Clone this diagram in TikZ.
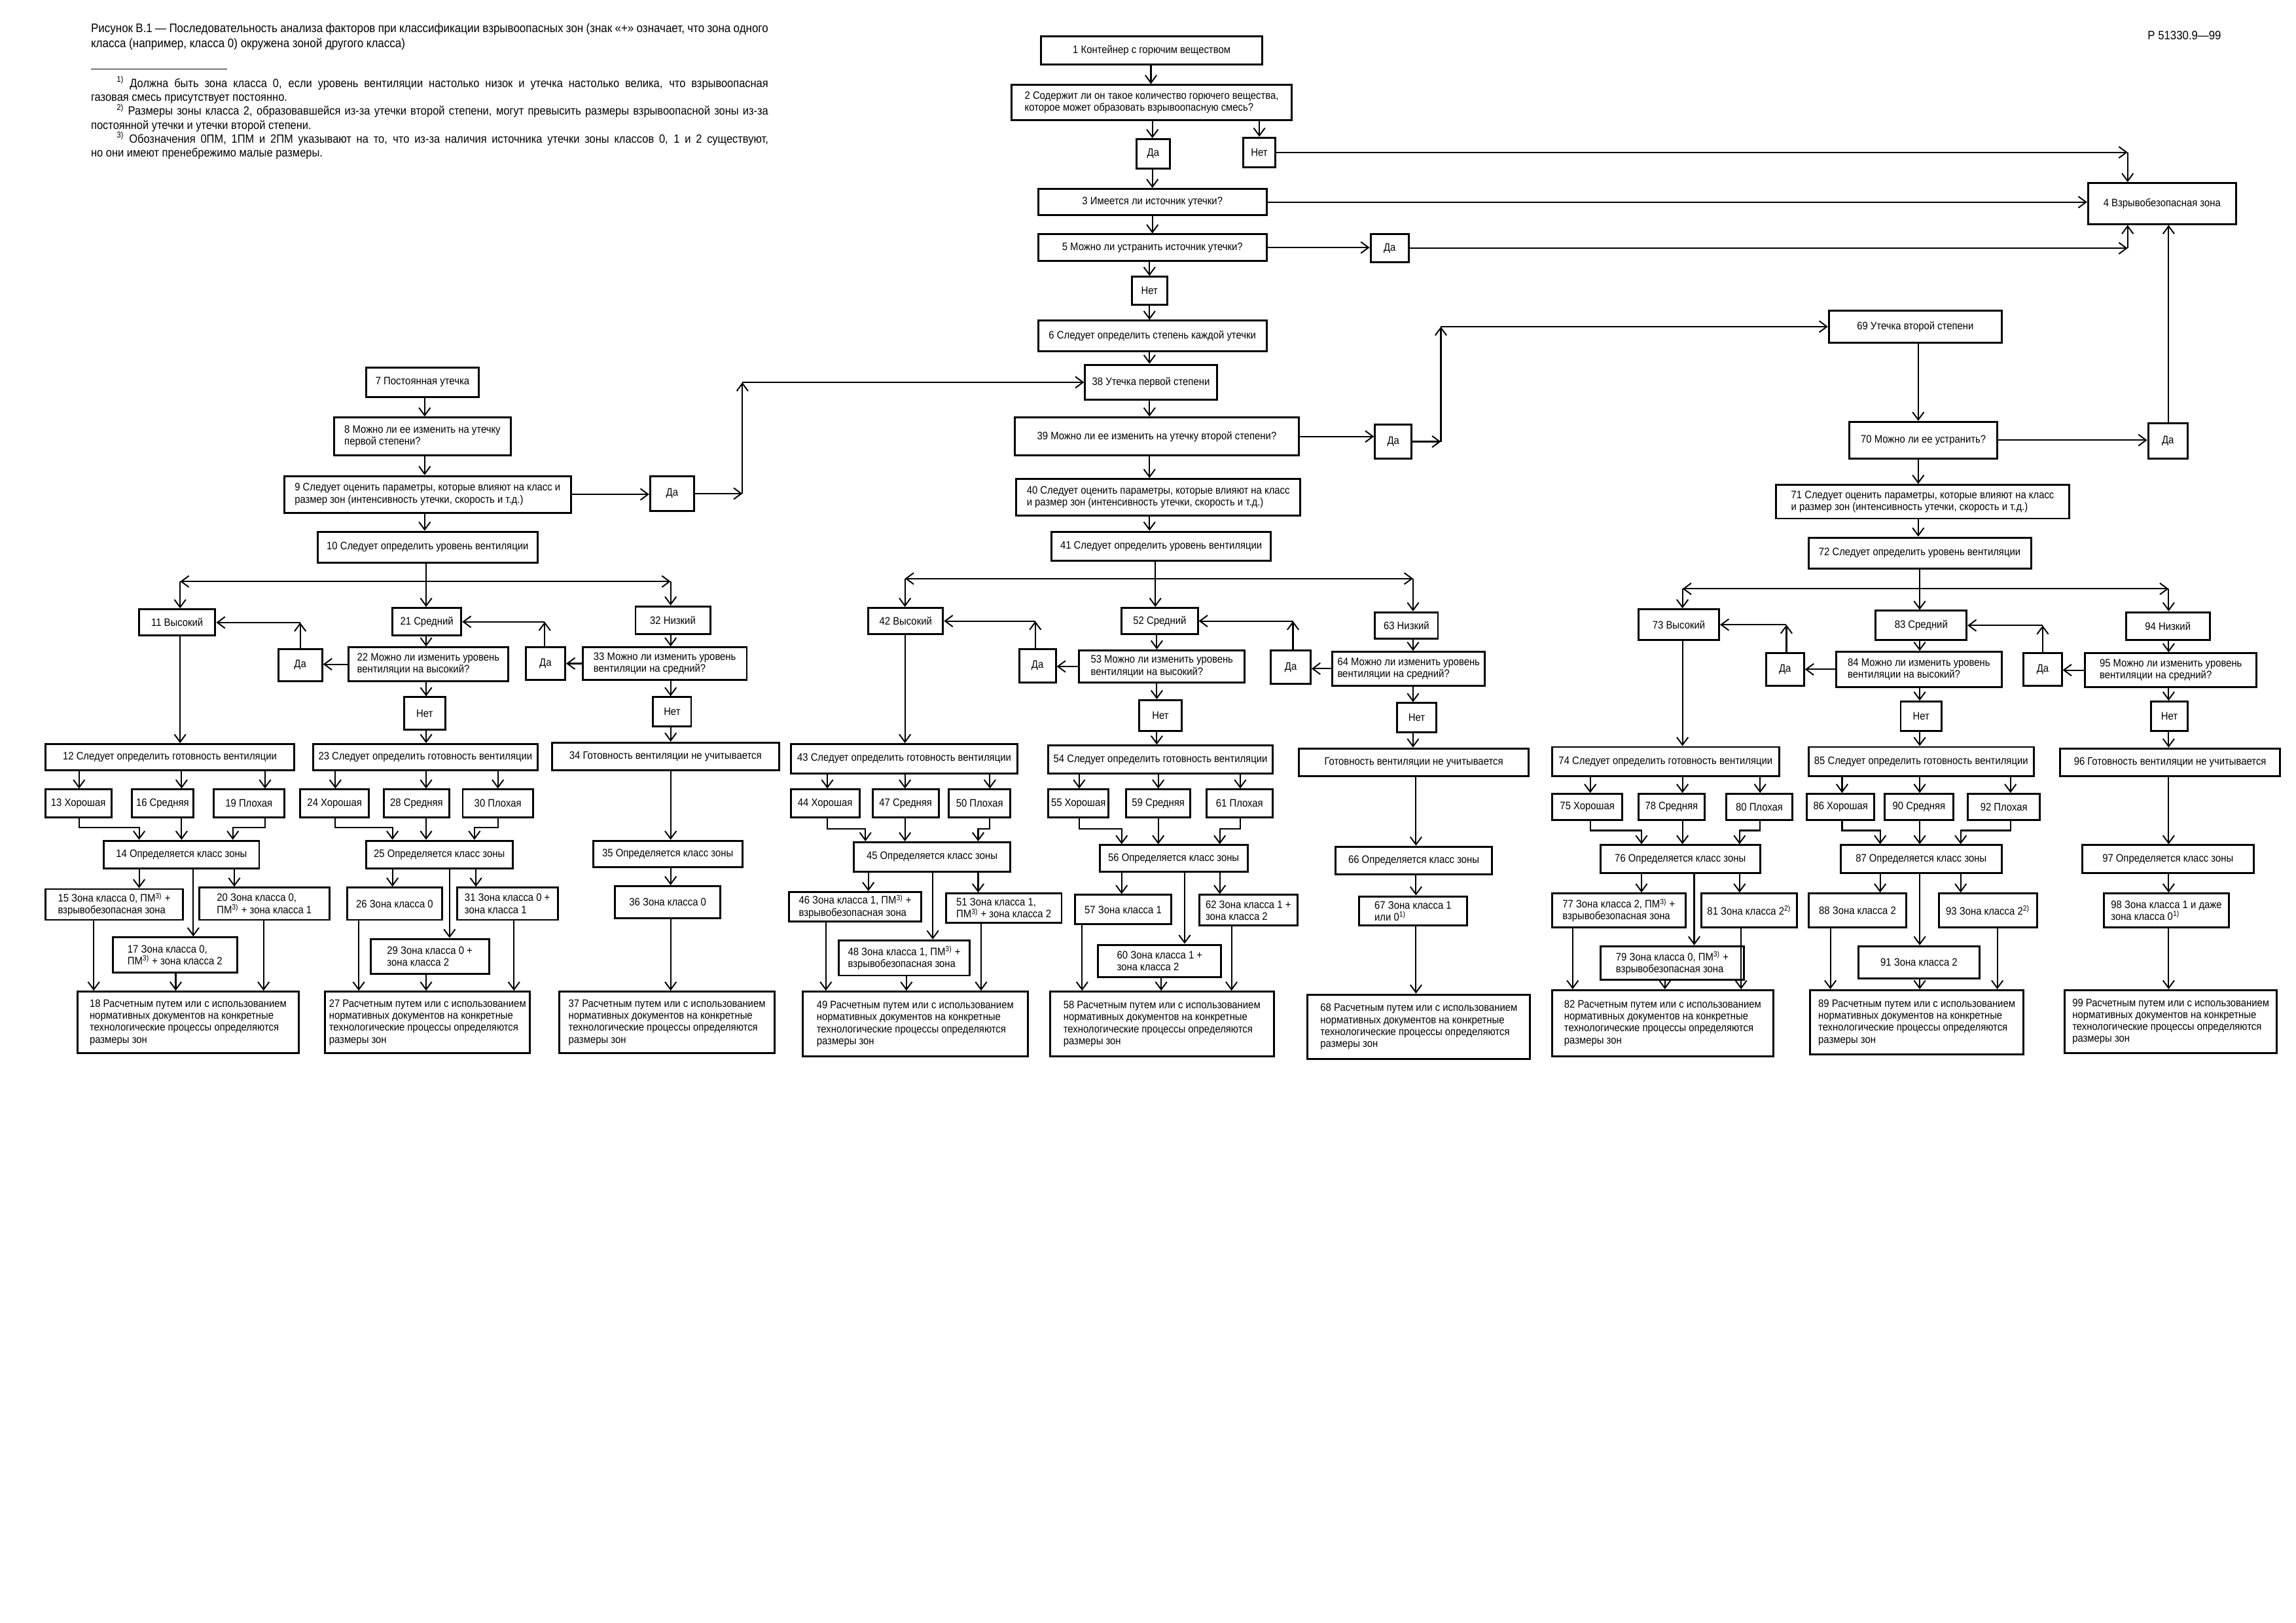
\documentclass[tikz,border=0pt]{standalone}
\usepackage{fontspec}
\setmainfont[FakeStretch=0.9]{Liberation Sans}
\usetikzlibrary{arrows.meta}
\tikzset{
  box/.style={draw, line width=1.5pt, fill=white, inner sep=1.5pt, font=\fontsize{8.4}{9.3}\selectfont, align=center},
  arr/.style={line width=1.05pt, -{Straight Barb[length=2.1mm,width=3.1mm,line width=1pt]}},
}
\newcommand\mybox[7][]{\node[box,#1,minimum width={(#5-#3)*0.4mm},minimum height={(#6-#4)*0.4mm}] (#2) at ({(#3+#5)/2},{(#4+#6)/2}) {#7};}
\newcommand\vlink[3]{\draw[arr] (#1,0 |- #2.south) -- (#1,0 |- #3.north);}
\newcommand\elink[5]{\draw[arr] (#2,0 |- #1.south) |- (#3,#4) -- (#3,0 |- #5.north);}
\newcommand\myup[3]{\draw[arr] (#1,0 |- #2.north) -- (#1,0 |- #3.east); \draw[arr] (#1,0 |- #3.east) -- (#3.east);}
\newcommand\hL[2]{\draw[arr] (#1.west) -- (#1.west -| #2.east);}
\newcommand\hR[2]{\draw[arr] (#1.east) -- (#1.east -| #2.west);}
\newcommand\mybranch[8]{%
  \draw[arr] (#4,0 |- #1.south) -- (#4,0 |- #7.north);
  \draw[arr] (#4,#2) -- (#3,#2); \draw[arr] (#3,#2) -- (#3,0 |- #6.north);
  \draw[arr] (#4,#2) -- (#5,#2); \draw[arr] (#5,#2) -- (#5,0 |- #8.north);}
\newcommand\restext[1]{#1 Расчетным путем или с использованием\\нормативных документов на конкретные\\технологические процессы определяются\\размеры зон}
\newcommand\pmm{ПМ\textsuperscript{3)}}
\begin{document}
\begin{tikzpicture}[x=0.4mm,y=-0.4mm]
\fill[white] (0,0) rectangle (1568,1108);
\useasboundingbox (0,0) rectangle (1568,1108);

% caption and footnotes
\node[anchor=north west, text width=185mm, align=justify, inner sep=0, font=\fontsize{9.6}{11.4}\selectfont] (cap) at (62,16)
 {Рисунок В.1 — Последовательность анализа факторов при классификации взрывоопасных зон (знак «+» означает, что зона одного\linebreak класса (например, класса 0) окружена зоной другого класса)};
\draw[line width=0.6pt] (62,47) -- (155,47);
\node[anchor=north west, text width=185mm, align=justify, inner sep=0, font=\fontsize{9.3}{10.8}\selectfont] (fn) at (62,52)
 {\hspace*{7mm}\textsuperscript{1)} Должна быть зона класса 0, если уровень вентиляции настолько низок и утечка настолько велика, что взрывоопасная\linebreak газовая смесь присутствует постоянно.\par
  \hspace*{7mm}\textsuperscript{2)} Размеры зоны класса 2, образовавшейся из-за утечки второй степени, могут превысить размеры взрывоопасной зоны из-за\linebreak постоянной утечки и утечки второй степени.\par
  \hspace*{7mm}\textsuperscript{3)} Обозначения 0ПМ, 1ПМ и 2ПМ указывают на то, что из-за наличия источника утечки зоны классов 0, 1 и 2 существуют,\linebreak но они имеют пренебрежимо малые размеры.};
\node[anchor=north east, inner sep=0, font=\fontsize{9.5}{11}\selectfont] (hdr) at (1517,21) {Р 51330.9—99};

% top part
\mybox{n1}{711}{25}{862}{44}{1 Контейнер с горючим веществом}
\mybox[align=left]{n2}{691}{58}{882}{82}{2 Содержит ли он такое количество горючего вещества,\\которое может образовать взрывоопасную смесь?}
\mybox{da2}{776}{95}{799}{115}{Да}
\mybox{net2}{849}{94}{871}{114}{Нет}
\mybox{n3}{709}{129}{865}{147}{3 Имеется ли источник утечки?}
\mybox{n4}{1426}{125}{1527}{153}{4 Взрывобезопасная зона}
\mybox{n5}{709}{160}{865}{178}{5 Можно ли устранить источник утечки?}
\mybox{da5}{936}{160}{962}{179}{Да}
\mybox{net5}{773}{189}{797}{208}{Нет}
\mybox{n6}{709}{219}{865}{240}{6 Следует определить степень каждой утечки}
\mybox{n69}{1249}{212}{1367}{234}{69 Утечка второй степени}
\mybox{n7}{250}{251}{327}{271}{7 Постоянная утечка}
\mybox{n38}{741}{249}{831}{273}{38 Утечка первой степени}
\mybox[align=left]{n8}{228}{285}{349}{311}{8 Можно ли ее изменить на утечку\\первой степени?}
\mybox{n39}{693}{285}{887}{311}{39 Можно ли ее изменить на утечку второй степени?}
\mybox{da39}{939}{290}{964}{313}{Да}
\mybox{n70}{1263}{288}{1364}{313}{70 Можно ли ее устранить?}
\mybox{da70}{1467}{289}{1494}{313}{Да}
\mybox[align=left]{n9}{194}{325}{390}{350}{9 Следует оценить параметры, которые влияют на класс и\\размер зон (интенсивность утечки, скорость и т.д.)}
\mybox{da9}{444}{325}{474}{349}{Да}
\mybox[align=left]{n40}{694}{327}{888}{352}{40 Следует оценить параметры, которые влияют на класс\\и размер зон (интенсивность утечки, скорость и т.д.)}
\mybox[align=left]{n71}{1213}{331}{1413}{354}{71 Следует оценить параметры, которые влияют на класс\\и размер зон (интенсивность утечки, скорость и т.д.)}
\mybox{n10}{217}{363}{367}{384}{10 Следует определить уровень вентиляции}
\mybox{n41}{718}{363}{868}{383}{41 Следует определить уровень вентиляции}
\mybox{n72}{1235}{367}{1387}{388}{72 Следует определить уровень вентиляции}

% top connectors
\vlink{786}{n1}{n2}
\vlink{787}{n2}{da2}
\vlink{860}{n2}{net2}
\vlink{787}{da2}{n3}
\coordinate (cN2) at (1453,0 |- net2.east);
\draw[arr] (net2.east) -- (cN2); \draw[arr] (cN2) -- (cN2 |- n4.north);
\hR{n3}{n4}
\vlink{787}{n3}{n5}
\hR{n5}{da5}
\coordinate (cD5) at (1453,0 |- da5.east);
\draw[arr] (da5.east) -- (cD5); \draw[arr] (cD5) -- (cD5 |- n4.south);
\vlink{785}{n5}{net5}
\vlink{785}{net5}{n6}
\vlink{785}{n6}{n38}
\vlink{785}{n38}{n39}
\vlink{785}{n39}{n40}
\vlink{785}{n40}{n41}
\hR{n39}{da39}
\coordinate (cA) at (984,0 |- da39.east);
\coordinate (cB) at (984,0 |- n69.west);
\draw[arr] (da39.east) -- (cA); \draw[arr] (cA) -- (cB); \draw[arr] (cB) -- (n69.west);
\vlink{1310}{n69}{n70}
\vlink{1310}{n70}{n71}
\vlink{1310}{n71}{n72}
\hR{n70}{da70}
\draw[arr] (1481,0 |- da70.north) -- (1481,0 |- n4.south);
\vlink{290}{n7}{n8}
\vlink{290}{n8}{n9}
\vlink{290}{n9}{n10}
\hR{n9}{da9}
\coordinate (cC) at (507,0 |- da9.east);
\coordinate (cD) at (507,0 |- n38.west);
\draw[arr] (da9.east) -- (cC); \draw[arr] (cC) -- (cD); \draw[arr] (cD) -- (n38.west);

% ===== left subtree
\mybox{n11}{95}{416}{147}{434}{11 Высокий}
\mybox{n21}{268}{415}{315}{434}{21 Средний}
\mybox{n32}{434}{414}{485}{433}{32 Низкий}
\mybox{da22}{190}{443}{220}{465}{Да}
\mybox[align=left]{n22}{238}{442}{347}{465}{22 Можно ли изменить уровень\\вентиляции на высокий?}
\mybox{da33}{359}{442}{386}{464}{Да}
\mybox[align=left]{n33}{398}{442}{510}{464}{33 Можно ли изменить уровень\\вентиляции на средний?}
\mybox{net22}{276}{476}{304}{498}{Нет}
\mybox{net33}{446}{476}{472}{496}{Нет}
\mybox{n12}{31}{508}{201}{526}{12 Следует определить готовность вентиляции}
\mybox{n23}{214}{508}{367}{526}{23 Следует определить готовность вентиляции}
\mybox{n34}{377}{507}{532}{526}{34 Готовность вентиляции не учитывается}
\mybox{n13}{31}{539}{76}{558}{13 Хорошая}
\mybox{n16}{90}{539}{132}{558}{16 Средняя}
\mybox{n19}{146}{539}{194}{558}{19 Плохая}
\mybox{n24}{205}{539}{252}{558}{24 Хорошая}
\mybox{n28}{262}{539}{307}{558}{28 Средняя}
\mybox{n30}{316}{539}{364}{558}{30 Плохая}
\mybox{n14}{71}{574}{177}{593}{14 Определяется класс зоны}
\mybox{n25}{250}{574}{350}{593}{25 Определяется класс зоны}
\mybox{n35}{405}{574}{507}{592}{35 Определяется класс зоны}
\mybox[align=left]{n15}{31}{607}{125}{628}{15 Зона класса 0, \pmm{} +\\взрывобезопасная зона}
\mybox[align=left]{n20}{136}{606}{225}{628}{20 Зона класса 0,\\\pmm{} + зона класса 1}
\mybox{n26}{237}{606}{302}{628}{26 Зона класса 0}
\mybox[align=left]{n31}{312}{606}{381}{628}{31 Зона класса 0 +\\зона класса 1}
\mybox{n36}{420}{605}{492}{627}{36 Зона класса 0}
\mybox[align=left]{n17}{77}{640}{162}{664}{17 Зона класса 0,\\\pmm{} + зона класса 2}
\mybox[align=left]{n29}{253}{641}{334}{665}{29 Зона класса 0 +\\зона класса 2}
\mybox[align=left]{n18}{53}{677}{204}{719}{\restext{18}}
\mybox[align=left]{n27}{222}{677}{362}{719}{\restext{27}}
\mybox[align=left]{n37}{382}{677}{529}{719}{\restext{37}}

\mybranch{n10}{397}{123}{291}{458}{n11}{n21}{n32}
\vlink{123}{n11}{n12}
\hL{n22}{da22}
\myup{205}{da22}{n11}
\vlink{291}{n21}{n22}
\vlink{291}{n22}{net22}
\vlink{291}{net22}{n23}
\hL{n33}{da33}
\myup{372}{da33}{n21}
\vlink{458}{n32}{n33}
\vlink{458}{n33}{net33}
\vlink{458}{net33}{n34}
\vlink{54}{n12}{n13}
\vlink{124}{n12}{n16}
\vlink{181}{n12}{n19}
\vlink{229}{n23}{n24}
\vlink{291}{n23}{n28}
\vlink{340}{n23}{n30}
\elink{n13}{54}{95}{565}{n14}
\vlink{124}{n16}{n14}
\elink{n19}{181}{159}{565}{n14}
\elink{n24}{229}{268}{565}{n25}
\vlink{291}{n28}{n25}
\elink{n30}{340}{324}{565}{n25}
\vlink{95}{n14}{n15}
\vlink{132}{n14}{n17}
\vlink{160}{n14}{n20}
\vlink{64}{n15}{n18}
\vlink{120}{n17}{n18}
\vlink{180}{n20}{n18}
\vlink{268}{n25}{n26}
\vlink{307}{n25}{n29}
\vlink{325}{n25}{n31}
\vlink{245}{n26}{n27}
\vlink{291}{n29}{n27}
\vlink{351}{n31}{n27}
\vlink{458}{n34}{n35}
\vlink{458}{n35}{n36}
\vlink{458}{n36}{n37}

% ===== middle subtree
\mybox{n42}{593}{415}{644}{433}{42 Высокий}
\mybox{n52}{766}{415}{818}{433}{52 Средний}
\mybox{n63}{939}{418}{982}{436}{63 Низкий}
\mybox{da53}{696}{443}{721}{466}{Да}
\mybox[align=left]{n53}{737}{444}{850}{466}{53 Можно ли изменить уровень\\вентиляции на высокий?}
\mybox{da64}{868}{444}{895}{467}{Да}
\mybox[align=left]{n64}{910}{445}{1014}{468}{64 Можно ли изменить уровень\\вентиляции на средний?}
\mybox{net53}{778}{478}{807}{499}{Нет}
\mybox{net64}{954}{480}{981}{500}{Нет}
\mybox{n43}{540}{508}{695}{528}{43 Следует определить готовность вентиляции}
\mybox{n54}{716}{509}{869}{528}{54 Следует определить готовность вентиляции}
\mybox{n65}{887}{511}{1044}{530}{Готовность вентиляции не учитывается}
\mybox{n44}{540}{539}{587}{558}{44 Хорошая}
\mybox{n47}{596}{539}{641}{558}{47 Средняя}
\mybox{n50}{648}{539}{690}{558}{50 Плохая}
\mybox{n55}{716}{539}{757}{558}{55 Хорошая}
\mybox{n59}{769}{539}{813}{558}{59 Средняя}
\mybox{n61}{824}{539}{869}{558}{61 Плохая}
\mybox{n45}{583}{575}{690}{595}{45 Определяется класс зоны}
\mybox{n56}{751}{577}{852}{595}{56 Определяется класс зоны}
\mybox{n66}{912}{578}{1019}{597}{66 Определяется класс зоны}
\mybox[align=left]{n46}{539}{609}{629}{629}{46 Зона класса 1, \pmm{} +\\взрывобезопасная зона}
\mybox[align=left]{n51}{646}{610}{725}{630}{51 Зона класса 1,\\\pmm{} + зона класса 2}
\mybox{n57}{734}{611}{800}{631}{57 Зона класса 1}
\mybox[align=left]{n62}{819}{611}{886}{632}{62 Зона класса 1 +\\зона класса 2}
\mybox[align=left]{n67}{928}{612}{1002}{632}{67 Зона класса 1\\или 0\textsuperscript{1)}}
\mybox[align=left]{n48}{573}{642}{662}{666}{48 Зона класса 1, \pmm{} +\\взрывобезопасная зона}
\mybox[align=left]{n60}{750}{645}{834}{667}{60 Зона класса 1 +\\зона класса 2}
\mybox[align=left]{n49}{548}{677}{702}{721}{\restext{49}}
\mybox[align=left]{n58}{717}{677}{870}{721}{\restext{58}}
\mybox[align=left]{n68}{893}{679}{1045}{723}{\restext{68}}

\mybranch{n41}{395}{618}{789}{965}{n42}{n52}{n63}
\vlink{618}{n42}{n43}
\hL{n53}{da53}
\myup{707}{da53}{n42}
\vlink{790}{n52}{n53}
\vlink{790}{n53}{net53}
\vlink{790}{net53}{n54}
\hL{n64}{da64}
\myup{883}{da64}{n52}
\vlink{965}{n63}{n64}
\vlink{965}{n64}{net64}
\vlink{965}{net64}{n65}
\vlink{565}{n43}{n44}
\vlink{618}{n43}{n47}
\vlink{676}{n43}{n50}
\vlink{737}{n54}{n55}
\vlink{791}{n54}{n59}
\vlink{847}{n54}{n61}
\elink{n44}{565}{591}{566}{n45}
\vlink{618}{n47}{n45}
\elink{n50}{676}{668}{566}{n45}
\elink{n55}{737}{766}{566}{n56}
\vlink{791}{n59}{n56}
\elink{n61}{847}{833}{566}{n56}
\vlink{593}{n45}{n46}
\vlink{637}{n45}{n48}
\vlink{668}{n45}{n51}
\vlink{564}{n46}{n49}
\vlink{619}{n48}{n49}
\vlink{670}{n51}{n49}
\vlink{766}{n56}{n57}
\vlink{809}{n56}{n60}
\vlink{833}{n56}{n62}
\vlink{739}{n57}{n58}
\vlink{793}{n60}{n58}
\vlink{841}{n62}{n58}
\vlink{967}{n65}{n66}
\vlink{967}{n66}{n67}
\vlink{967}{n67}{n68}

% ===== right subtree
\mybox{n73}{1119}{416}{1174}{437}{73 Высокий}
\mybox{n83}{1281}{417}{1343}{437}{83 Средний}
\mybox{n94}{1452}{418}{1509}{437}{94 Низкий}
\mybox{da84}{1206}{446}{1232}{468}{Да}
\mybox[align=left]{n84}{1254}{445}{1367}{469}{84 Можно ли изменить уровень\\вентиляции на высокий?}
\mybox{da95}{1382}{446}{1408}{468}{Да}
\mybox[align=left]{n95}{1424}{446}{1541}{469}{95 Можно ли изменить уровень\\вентиляции на средний?}
\mybox{net84}{1298}{479}{1326}{499}{Нет}
\mybox{net95}{1469}{479}{1494}{499}{Нет}
\mybox{n74}{1060}{510}{1215}{530}{74 Следует определить готовность вентиляции}
\mybox{n85}{1235}{510}{1389}{530}{85 Следует определить готовность вентиляции}
\mybox{n96}{1407}{511}{1557}{530}{96 Готовность вентиляции не учитывается}
\mybox{n75}{1060}{542}{1108}{560}{75 Хорошая}
\mybox{n78}{1119}{542}{1164}{560}{78 Средняя}
\mybox{n80}{1179}{542}{1224}{560}{80 Плохая}
\mybox{n86}{1234}{542}{1280}{560}{86 Хорошая}
\mybox{n90}{1287}{542}{1334}{560}{90 Средняя}
\mybox{n92}{1344}{542}{1393}{560}{92 Плохая}
\mybox{n76}{1093}{577}{1202}{596}{76 Определяется класс зоны}
\mybox{n87}{1257}{577}{1367}{596}{87 Определяется класс зоны}
\mybox{n97}{1422}{577}{1539}{596}{97 Определяется класс зоны}
\mybox[align=left]{n77}{1060}{610}{1151}{633}{77 Зона класса 2, \pmm{} +\\взрывобезопасная зона}
\mybox{n81}{1162}{610}{1227}{633}{81 Зона класса 2\textsuperscript{2)}}
\mybox{n88}{1235}{610}{1302}{633}{88 Зона класса 2}
\mybox{n93}{1324}{610}{1391}{633}{93 Зона класса 2\textsuperscript{2)}}
\mybox[align=left]{n98}{1437}{610}{1522}{633}{98 Зона класса 1 и даже\\зона класса 0\textsuperscript{1)}}
\mybox[align=left]{n79}{1093}{646}{1191}{669}{79 Зона класса 0, \pmm{} +\\взрывобезопасная зона}
\mybox{n91}{1269}{646}{1352}{668}{91 Зона класса 2}
\mybox[align=left]{n82}{1060}{676}{1211}{721}{\restext{82}}
\mybox[align=left]{n89}{1236}{676}{1382}{720}{\restext{89}}
\mybox[align=left]{n99}{1410}{676}{1555}{719}{\restext{99}}

\mybranch{n72}{402}{1149}{1311}{1481}{n73}{n83}{n94}
\vlink{1149}{n73}{n74}
\hL{n84}{da84}
\myup{1220}{da84}{n73}
\vlink{1311}{n83}{n84}
\vlink{1311}{n84}{net84}
\vlink{1311}{net84}{n85}
\hL{n95}{da95}
\myup{1395}{da95}{n83}
\vlink{1481}{n94}{n95}
\vlink{1481}{n95}{net95}
\vlink{1481}{net95}{n96}
\vlink{1086}{n74}{n75}
\vlink{1149}{n74}{n78}
\vlink{1202}{n74}{n80}
\vlink{1258}{n85}{n86}
\vlink{1311}{n85}{n90}
\vlink{1373}{n85}{n92}
\elink{n75}{1086}{1121}{567}{n76}
\vlink{1149}{n78}{n76}
\elink{n80}{1202}{1188}{567}{n76}
\elink{n86}{1258}{1284}{567}{n87}
\vlink{1311}{n90}{n87}
\elink{n92}{1373}{1339}{567}{n87}
\vlink{1121}{n76}{n77}
\vlink{1157}{n76}{n79}
\vlink{1188}{n76}{n81}
\vlink{1284}{n87}{n88}
\vlink{1311}{n87}{n91}
\vlink{1339}{n87}{n93}
\vlink{1074}{n77}{n82}
\vlink{1137}{n79}{n82}
\vlink{1189}{n81}{n82}
\vlink{1250}{n88}{n89}
\vlink{1311}{n91}{n89}
\vlink{1364}{n93}{n89}
\vlink{1481}{n96}{n97}
\vlink{1481}{n97}{n98}
\vlink{1481}{n98}{n99}
\end{tikzpicture}
\end{document}
